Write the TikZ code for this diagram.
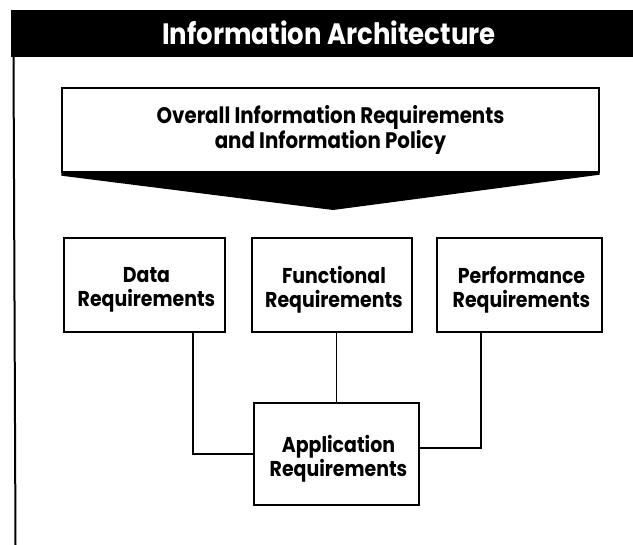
\documentclass[tikz,border=0pt]{standalone}
\usepackage{fontspec}
\setmainfont{Poppins}
\newfontfamily\geofont{Poppins}[FakeStretch=0.88]
\begin{document}
\begin{tikzpicture}[x=1pt,y=-1pt,
  boxline/.style={draw=black, line width=1.4pt},
  reqbox/.style={boxline, fill=white, minimum width=161pt, minimum height=94pt,
    inner sep=0pt},
  reqtext/.style={inner sep=0pt, align=center,
    font=\geofont\bfseries\fontsize{21.5}{24}\selectfont},
  link/.style={draw=black, line width=1.2pt}]
\useasboundingbox (0,0) rectangle (633,545);

% heading bar and left frame rule
\fill[black] (11,10) rectangle (633,57);
\node[text=white, anchor=base, inner sep=0pt,
  font=\geofont\bfseries\fontsize{29.5}{32}\selectfont] (title) at (329,45)
  {Information Architecture};
\draw[line width=2pt] (13.5,57) -- (15.5,545);

% overall requirements box with its downward chevron
\node[boxline, minimum width=537pt, minimum height=84pt, inner sep=0pt,
  align=center, font=\geofont\bfseries\fontsize{22.5}{23}\selectfont]
  (overall) at (330.5,130) {Overall Information Requirements\\and Information Policy};
\coordinate (tip) at (333,210);
\fill[black] (overall.south west) -- (overall.south east)
  -- ([yshift=-2pt]overall.south east) -- (tip)
  -- ([yshift=-3pt]overall.south west) -- cycle;

% requirement boxes
\node[reqbox, minimum width=161pt] (data) at (144.5,285) {};
\node[reqbox, minimum width=160pt] (func) at (332,285) {};
\node[reqbox, minimum width=165pt] (perf) at (519.5,285) {};
\node[reqbox, minimum width=165pt, minimum height=102pt] (app) at (336.5,454) {};

% their labels, set a little below the box centres
\node[reqtext] (datalabel) at ([xshift=2pt,yshift=-5pt]data.center) {Data\\Requirements};
\node[reqtext] (funclabel) at ([xshift=2pt,yshift=-5pt]func.center) {Functional\\Requirements};
\node[reqtext] (perflabel) at ([xshift=2pt,yshift=-5pt]perf.center) {Performance\\Requirements};
\node[reqtext] (applabel) at ([xshift=2pt,yshift=-5pt]app.center) {Application\\Requirements};

% connectors
\draw[link] ([xshift=48.5pt]data.south) |- (app.west);
\draw[link] (app.north |- func.south) -- (app.north);
\draw[link] ([xshift=-38.5pt]perf.south) |- ([yshift=6pt]app.east);
\end{tikzpicture}
\end{document}
